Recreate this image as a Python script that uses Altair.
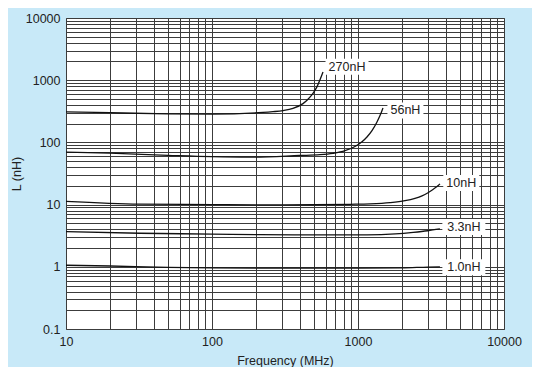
import altair as alt
import pandas as pd

# Curve data (frequency in MHz, inductance in nH)
f_270 = [10, 20, 50, 100, 223.6, 261.7, 306.4, 358.7, 420.1, 454.5, 491.8, 524.0, 549.3, 575.8]
l_270 = [310, 300, 288, 285, 303, 312, 325, 352, 420, 493, 612, 788, 1020, 1359]

f_56 = [10, 20, 50, 100, 180, 400.6, 549, 674, 815, 954, 1065, 1152, 1247, 1349, 1415, 1483]
l_56 = [70, 67, 62, 59, 58, 61.6, 63.4, 66.8, 73.6, 85.9, 102.2, 122.1, 154.2, 212.8, 269.7, 358.6]

f_10 = [10, 32, 100, 213, 500, 881, 1208, 1657, 2099, 2457, 2744, 3017, 3263, 3476, 3644]
l_10 = [11.3, 10.2, 10.0, 9.9, 9.95, 10.11, 10.26, 10.73, 11.55, 12.63, 13.85, 15.54, 17.49, 19.47, 21.52]

f_33 = [10, 32, 100, 213, 500, 1150, 1800, 2390, 3000, 3640]
l_33 = [3.68, 3.46, 3.36, 3.28, 3.25, 3.26, 3.38, 3.58, 3.8, 4.07]

f_1 = [10, 20, 50, 100, 300, 1000, 2000, 3000, 3640]
l_1 = [1.06, 1.03, 0.98, 0.96, 0.95, 0.95, 0.96, 0.99, 1.0]

series_names = ["270nH", "56nH", "10nH", "3.3nH", "1.0nH"]
series_f = [f_270, f_56, f_10, f_33, f_1]
series_l = [l_270, l_56, l_10, l_33, l_1]

label_text = ["270nH", "56nH", "10nH", "3.3nH", "1.0nH"]
label_f = [841, 2113, 5100, 5310, 5310]
label_l = [1650, 327, 22.2, 4.35, 0.98]

x_grid = sorted(set([m * d for d in [10, 100, 1000] for m in range(1, 10)] + [10000]))
y_grid = sorted(set([round(m * d, 6) for d in [0.1, 1, 10, 100, 1000] for m in range(1, 10)] + [10000]))

rows = []
for name, fs, ls in zip(series_names, series_f, series_l):
    for i, (f, l) in enumerate(zip(fs, ls)):
        rows.append({"series": name, "f": f, "L": l, "order": i})
curves = pd.DataFrame(rows)
labels = pd.DataFrame({"text": label_text, "f": label_f, "L": label_l})

x_scale = alt.Scale(type="log", domain=[10, 10000], nice=False)
y_scale = alt.Scale(type="log", domain=[0.1, 10000], nice=False)

FS = 12.5
x_axis = alt.Axis(
    title="Frequency (MHz)", values=x_grid, grid=True, ticks=False, tickSize=0,
    labelExpr="indexof([10,100,1000,10000], datum.value) >= 0 ? datum.value : ''",
    labelFont="Liberation Sans", labelFontSize=FS, labelColor="#222",
    labelPadding=6, labelFlush=False, labelOverlap=False,
    titleFont="Liberation Sans", titleFontSize=FS, titleFontWeight="normal",
    titleColor="#222", titleX=219, titleY=35, titleBaseline="alphabetic",
    gridColor="#3c3c3c", gridWidth=1, gridOpacity=1, domain=False,
)
y_axis = alt.Axis(
    title="L (nH)", values=y_grid, grid=True, ticks=False, tickSize=0,
    labelExpr="indexof([0.1,1,10,100,1000,10000], datum.value) >= 0 ? datum.value : ''",
    labelFont="Liberation Sans", labelFontSize=FS, labelColor="#222",
    labelPadding=6, labelFlush=False, labelOverlap=False,
    titleFont="Liberation Sans", titleFontSize=FS, titleFontWeight="normal",
    titleColor="#222", titleX=-50, titleY=155.5, titleAngle=-90,
    titleAlign="center", titleBaseline="middle",
    gridColor="#3c3c3c", gridWidth=1, gridOpacity=1, domain=False,
)

lines = alt.Chart(curves).mark_line(
    color="#111", strokeWidth=1.3, interpolate="monotone", clip=True
).encode(
    x=alt.X("f:Q", scale=x_scale, axis=x_axis),
    y=alt.Y("L:Q", scale=y_scale, axis=y_axis),
    detail="series:N",
    order="order:Q",
)

layers = [lines]
for t, f, l in zip(label_text, label_f, label_l):
    w = 8 + 7 * len(t)
    box = alt.Chart(pd.DataFrame({"f": [f], "L": [l]})).mark_rect(
        color="white", width=w, height=16
    ).encode(x=alt.X("f:Q", scale=x_scale), y=alt.Y("L:Q", scale=y_scale))
    layers.append(box)

texts = alt.Chart(labels).mark_text(
    font="Liberation Sans", fontSize=FS, color="#222", align="center", baseline="middle"
).encode(
    x=alt.X("f:Q", scale=x_scale),
    y=alt.Y("L:Q", scale=y_scale),
    text="text:N",
)
layers.append(texts)

chart = alt.layer(*layers).properties(
    width=438, height=311,
    background="#c8e9f8",
    padding={"left": 58, "top": 10, "right": 28, "bottom": 38},
    autosize=alt.AutoSizeParams(type="none"),
).configure_view(
    fill="white", stroke="#555", strokeWidth=1
)

chart.save("out.html", embed_options={"renderer": "svg", "actions": False})
